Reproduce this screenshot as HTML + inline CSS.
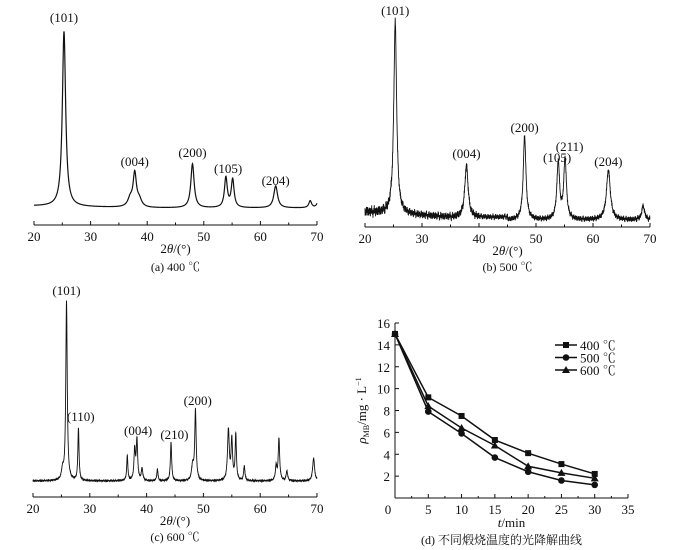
<!DOCTYPE html>
<html><head><meta charset="utf-8">
<style>
body{margin:0;background:#fff;}
svg{display:block;font-family:"Liberation Serif","Noto Serif CJK SC",serif;}
text{fill:#111;}
</style></head>
<body>
<svg id="fig" width="675" height="550" viewBox="0 0 675 550" xmlns="http://www.w3.org/2000/svg"></svg>
<script>
// ----- Data -----
const xrdTicks=[20,30,40,50,60,70];
// panel a (400 C): peak positions, heights, widths
const aPos=[25.3,37.0,37.8,38.6,48.0,53.9,55.1,62.7,68.8,70.2];
const aHt=[175,8,33,7,44,30,28,22,7,6];
const aWd=[0.35,0.5,0.35,0.5,0.35,0.3,0.3,0.4,0.3,0.3];
const aLabels=[["(101)",25.3,22],["(004)",37.8,166],["(200)",48.0,157],["(105)",54.3,173],["(204)",62.7,185]];
// panel b (500 C)
const bPos=[25.3,37.8,48.0,53.9,55.1,62.7,68.8];
const bHt=[192,52,84,57,60,50,14];
const bWd=[0.3,0.35,0.28,0.28,0.28,0.4,0.3];
const bLabels=[["(101)",25.3,15],["(004)",37.8,158],["(200)",48.0,132],["(105)",53.7,162],["(211)",55.9,151],["(204)",62.7,166]];
// panel c (600 C)
const cPos=[25.2,25.9,28.0,36.6,37.9,38.3,39.2,41.9,44.3,48.1,48.6,54.4,55.0,55.7,57.2,62.8,63.3,64.7,69.4];
const cHt=[10,180,53,25,30,40,12,12,39,15,70,51,40,46,15,14,42,10,23];
const cWd=[0.2,0.15,0.12,0.12,0.15,0.15,0.15,0.12,0.13,0.2,0.15,0.18,0.15,0.13,0.13,0.15,0.15,0.15,0.2];
const cLabels=[["(101)",25.9,295],["(110)",28.4,421],["(004)",38.5,435],["(210)",44.9,439],["(200)",49.0,405]];
// panel d
const tVals=[0,5,10,15,20,25,30];
const s400=[15,9.2,7.5,5.3,4.1,3.1,2.2];
const s500=[15,7.9,5.9,3.7,2.4,1.6,1.2];
const s600=[15,8.4,6.4,4.8,2.9,2.3,1.8];
const dXTicks=[0,5,10,15,20,25,30,35];
const dYTicks=[2,4,6,8,10,12,14,16];

const NS="http://www.w3.org/2000/svg";
const svg=document.getElementById('fig');
function el(t,a,p){const e=document.createElementNS(NS,t);for(const k in a)e.setAttribute(k,a[k]);(p||svg).appendChild(e);return e;}
function txt(s,x,y,a,p){const e=el('text',Object.assign({x:x,y:y},a||{}),p);e.textContent=s;return e;}

function xrdPanel(id,x0,x1,axisY,base,pos,ht,wd,noiseAmp,slope,labels,caption,capY){
  const g=el('g',{});
  
  
  const X=v=>x0+(v-20)/(70-20)*(x1-x0);
  const ax=el('line',{x1:x0,y1:axisY,x2:x1,y2:axisY,stroke:'#111','stroke-width':1},g);
  
  
  for(let v=20;v<=70;v+=5){el('line',{x1:X(v),y1:axisY,x2:X(v),y2:axisY-(v%10===0?4:2.5),stroke:'#111'},g);}
  xrdTicks.forEach(v=>{const t=txt(String(v),X(v),axisY+16,{'font-size':13,'text-anchor':'middle'},g);
    });
  const tt=el('text',{x:(x0+x1)/2,y:axisY+28,'font-size':13,'text-anchor':'middle'},g);
  tt.innerHTML='2<tspan font-style="italic">θ</tspan>/(°)';
  
  const cp=txt(caption,(x0+x1)/2,capY,{'font-size':12,'text-anchor':'middle'},g);
  
  let d='';
  const step=noiseAmp?0.025:0.04;
  let k=0;
  for(let v=20;v<=70.001;v+=step){
    let y=0;
    for(let i=0;i<pos.length;i++){const z=(v-pos[i])/wd[i];y+=ht[i]/(1+z*z);}
    y+=slope(v);
    if(noiseAmp){const a=noiseAmp(v);k++;
      y+=a*(Math.sin(k*2.399)*0.7+Math.sin(k*1.713+1.3)*0.5+Math.sin(k*0.377+2.1)*0.4);}
    d+=(d?'L':'M')+X(v).toFixed(2)+','+(base-y).toFixed(2);
  }
  const p=el('path',{d:d,fill:'none',stroke:'#111','stroke-width':noiseAmp?0.9:1.2},g);
  
  labels.forEach(l=>{const t=txt(l[0],X(l[1]),l[2],{'font-size':13,'text-anchor':'middle'},g);
    });
}
xrdPanel('panel-a-400c',34,317,225,208,aPos,aHt,aWd,null,v=>v<40?2-(v-20)*0.1:0,aLabels,'(a) 400 ℃',271);
xrdPanel('panel-b-500c',365,650,227,220,bPos,bHt,bWd,v=>v<25?4:(v<40?3:2.2),v=>v<35?8-(v-20)*0.35:(v<45?2.5:0),bLabels,'(b) 500 ℃',271);
xrdPanel('panel-c-600c',33,317,497,481,cPos,cHt,cWd,v=>0.8,v=>0,cLabels,'(c) 600 ℃',541);

// ----- Panel d -----
const gd=el('g',{});


const DX0=395,DX1=628,DY0=498,DY1=323;
const DX=v=>DX0+v/35*(DX1-DX0), DY=v=>DY0-v/16*(DY0-DY1);
el('line',{x1:DX0,y1:DY0,x2:DX1,y2:DY0,stroke:'#111'},gd);
el('line',{x1:DX0,y1:DY0,x2:DX0,y2:DY1,stroke:'#111'},gd);
dXTicks.forEach(v=>{el('line',{x1:DX(v),y1:DY0,x2:DX(v),y2:DY0-4,stroke:'#111'},gd);
  const t=txt(String(v),v===0?DX(v)-7:DX(v),DY0+16,{'font-size':13,'text-anchor':'middle'},gd);
  });
for(let v=2.5;v<35;v+=5)el('line',{x1:DX(v),y1:DY0,x2:DX(v),y2:DY0-2,stroke:'#111'},gd);
dYTicks.forEach(v=>{el('line',{x1:DX0,y1:DY(v),x2:DX0+4,y2:DY(v),stroke:'#111'},gd);
  const t=txt(String(v),DX0-5,DY(v)+5,{'font-size':13,'text-anchor':'end'},gd);
  });
const xt=el('text',{x:(DX0+DX1)/2,y:DY0+29,'font-size':13,'text-anchor':'middle'},gd);
xt.innerHTML='<tspan font-style="italic">t</tspan>/min';

const yt=el('text',{x:0,y:0,'font-size':13,'text-anchor':'middle',transform:'translate(366,'+((DY0+DY1)/2)+') rotate(-90)'},gd);
yt.innerHTML='<tspan font-style="italic">ρ</tspan><tspan font-size="8" dy="3">MB</tspan><tspan dy="-3">/mg · L</tspan><tspan font-size="8" dy="-5">−1</tspan>';

const cpd=txt('(d) 不同煅烧温度的光降解曲线',(DX0+DX1)/2-10,DY0+46,{'font-size':12,'text-anchor':'middle'},gd);


function marker(shape,x,y,p){
  if(shape==='sq')return el('rect',{x:x-3,y:y-3,width:6,height:6,fill:'#111'},p);
  if(shape==='ci')return el('circle',{cx:x,cy:y,r:3.3,fill:'#111'},p);
  return el('polygon',{points:`${x},${y-4} ${x-4},${y+3} ${x+4},${y+3}`,fill:'#111'},p);
}
[[s400,'sq','series-400c','400 ℃'],[s500,'ci','series-500c','500 ℃'],[s600,'tr','series-600c','600 ℃']].forEach((s,k)=>{
  const g=el('g',{},gd);
  
  
  el('polyline',{points:tVals.map((t,i)=>DX(t)+','+DY(s[0][i])).join(' '),fill:'none',stroke:'#111','stroke-width':1.5},g);
  tVals.forEach((t,i)=>{const m=marker(s[1],DX(t),DY(s[0][i]),g);
    });
  const ly=345+k*12.5;
  const lg=el('g',{},gd);
  
  
  el('line',{x1:555,y1:ly,x2:577,y2:ly,stroke:'#111','stroke-width':1.5},lg);
  marker(s[1],566,ly,lg);
  txt(s[3],580,ly+5,{'font-size':13},lg);
});
</script>
</body></html>
